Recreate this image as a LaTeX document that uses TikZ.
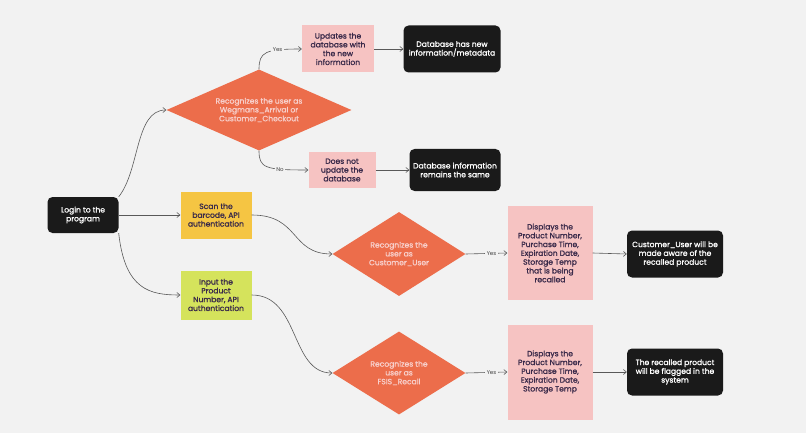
\documentclass[tikz,border=0pt]{standalone}
\usepackage{fontspec}
\setmainfont{Poppins}[AutoFakeBold=1.2]
\usetikzlibrary{shapes.geometric,arrows.meta}
\definecolor{bg}{HTML}{F2F2F2}
\definecolor{org}{HTML}{EC6D4B}
\definecolor{pnk}{HTML}{F8D0CC}
\definecolor{pbg}{HTML}{F6C3C2}
\definecolor{yel}{HTML}{F5C543}
\definecolor{lim}{HTML}{D5E35C}
\definecolor{blk}{HTML}{1A1A1A}
\definecolor{txt}{HTML}{3A2A4A}
\begin{document}
\begin{tikzpicture}[x=1pt,y=-1pt,
  every node/.style={font=\fontsize{7.6}{8.8}\selectfont\bfseries, align=center, inner sep=0pt},
  dia/.style={diamond, aspect=#1, fill=org, text=pnk},
  pbox/.style={fill=pbg, text=txt},
  dbox/.style={fill=blk, text=white, rounded corners=5pt},
  arr/.style={draw=gray!70!black, line width=0.6pt, -{Straight Barb[length=3pt,width=5pt]}},
  lab/.style={fill=bg, inner sep=1.5pt, text=gray!50!black, font=\fontsize{5.5}{6}\selectfont}]
\fill[bg] (0,0) rectangle (806,433);
\node[dbox, minimum width=71pt, minimum height=36pt] (login) at (83,215) {Login to the\\program};
\node[dia=2.28, minimum width=185pt, minimum height=81pt] (d1) at (259,110) {};
\node[text=pnk] at (259,110) {Recognizes the user as\\Wegmans\_Arrival or\\Customer\_Checkout};
\node[pbox, minimum width=72pt, minimum height=47pt] (upd) at (338,49) {Updates the\\database with\\the new\\information};
\node[dbox, minimum width=97pt, minimum height=47pt] (dbn) at (452,49) {Database has new\\information/metadata};
\node[pbox, minimum width=67pt, minimum height=36pt] (dnu) at (342,170) {Does not\\update the\\database};
\node[dbox, minimum width=91pt, minimum height=42pt] (dbs) at (455,170) {Database information\\remains the same};
\node[fill=yel, text=txt, minimum width=71pt, minimum height=47pt] (scan) at (216,215) {Scan the\\barcode, API\\authentication};
\node[fill=lim, text=txt, minimum width=71pt, minimum height=49pt] (inp) at (216,295) {Input the\\Product\\Number, API\\authentication};
\node[dia=1.58, minimum width=133pt, minimum height=84pt] (d2) at (399,254) {};
\node[text=pnk] at (399,254) {Recognizes the\\user as\\Customer\_User};
\node[dia=1.6, minimum width=133pt, minimum height=83pt] (d3) at (399,373) {};
\node[text=pnk] at (399,373) {Recognizes the\\user as\\FSIS\_Recall};
\node[pbox, minimum width=85pt, minimum height=94pt] (dis1) at (550,253) {Displays the\\Product Number,\\Purchase Time,\\Expiration Date,\\Storage Temp\\that is being\\recalled};
\node[pbox, minimum width=85pt, minimum height=95pt] (dis2) at (550,372) {Displays the\\Product Number,\\Purchase Time,\\Expiration Date,\\Storage Temp};
\node[dbox, minimum width=96pt, minimum height=47pt] (cu) at (675,254) {Customer\_User will be\\made aware of the\\recalled product};
\node[dbox, minimum width=96pt, minimum height=47pt] (rp) at (675,372) {The recalled product\\will be flagged in the\\system};
\draw[arr] (login.north east) .. controls (140,170) and (135,110) .. (d1.west);
\draw[arr] (login.east) -- (scan.west);
\draw[arr] (login.south east) .. controls (125,290) and (150,295) .. (inp.west);
\draw[arr] (scan.east) .. controls (300,215) and (290,254) .. (d2.west);
\draw[arr] (inp.east) .. controls (300,295) and (290,373) .. (d3.west);
\draw[arr] (d1.north) .. controls (259,52) and (265,49) .. node[lab,pos=0.72]{Yes} (upd.west);
\draw[arr] (d1.south) .. controls (259,168) and (265,170) .. node[lab,pos=0.72]{No} (dnu.west);
\draw[arr] (upd.east) -- (dbn.west);
\draw[arr] (dnu.east) -- (dbs.west);
\draw[arr] (d2.east) -- node[lab,pos=0.62]{Yes} (dis1.west);
\draw[arr] (d3.east) -- node[lab,pos=0.62]{Yes} (dis2.west);
\draw[arr] (dis1.east) -- (cu.west);
\draw[arr] (dis2.east) -- (rp.west);
\end{tikzpicture}
\end{document}
